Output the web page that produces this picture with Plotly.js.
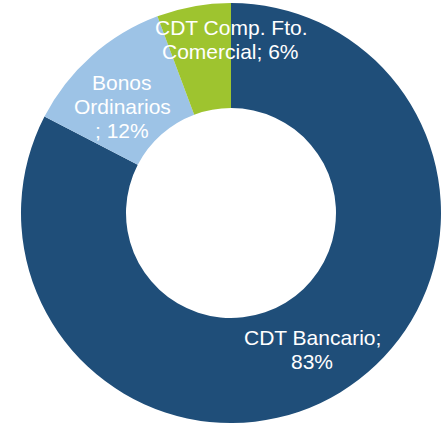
<!DOCTYPE html>
<html>
<head>
<meta charset="utf-8">
<script src="https://cdn.plot.ly/plotly-3.0.1.min.js"></script>
<style>
  html, body { margin: 0; padding: 0; background: #ffffff; }
  #chart { width: 443px; height: 434px; }
</style>
</head>
<body>
<div id="chart"></div>
<script>
// slices, clockwise from 12 o'clock
const categories = ["CDT Bancario", "Bonos Ordinarios", "CDT Comp. Fto. Comercial"];
const values = [82.6, 11.7, 5.7];
const labelLines = [
  ["CDT Bancario;", "83%"],
  ["Bonos", "Ordinarios", "; 12%"],
  ["CDT Comp. Fto.", "Comercial; 6%"]
];

const colors = ["#1f4e79", "#9dc3e6", "#9ec42f"];

const W = 443, H = 434;
const cx = 231, cy = 213, R = 210; // pixel centre / radius
const labelRadius = 0.78;
const lineGap = 24;
// small nudges (px, x right / y down) like the hand-placed labels
const nudges = [[-4, -3], [0, 16], [29, -12]];

const total = values.reduce((a, b) => a + b, 0);
let cum = 0;
const annotations = [];
values.forEach((v, i) => {
  const mid = (cum + v / 2) / total;
  cum += v;
  const th = 2 * Math.PI * mid;
  const px = cx + labelRadius * R * Math.sin(th) + nudges[i][0];
  const py = cy - labelRadius * R * Math.cos(th) + nudges[i][1];
  const n = labelLines[i].length;
  labelLines[i].forEach((line, j) => {
    const ly = py + (j - (n - 1) / 2) * lineGap;
    annotations.push({
      x: px / W,
      y: 1 - ly / H,
      xref: "paper",
      yref: "paper",
      text: line,
      showarrow: false,
      xanchor: "center",
      yanchor: "middle",
      font: { family: "Liberation Sans, Arial, sans-serif", size: 21, color: "#ffffff" }
    });
  });
});

const trace = {
  type: "pie",
  labels: categories,
  values: values,
  hole: 0.5,
  sort: false,
  direction: "clockwise",
  rotation: 0,
  textinfo: "none",
  marker: { colors: colors, line: { width: 0 } },
  domain: { x: [(cx - R) / W, (cx + R) / W], y: [1 - (cy + R) / H, 1 - (cy - R) / H] },
  hoverinfo: "label+percent"
};

const layout = {
  width: W,
  height: H,
  margin: { l: 0, r: 0, t: 0, b: 0 },
  showlegend: false,
  paper_bgcolor: "#ffffff",
  annotations: annotations
};

Plotly.newPlot("chart", [trace], layout, { displayModeBar: false, staticPlot: true });
</script>
</body>
</html>
